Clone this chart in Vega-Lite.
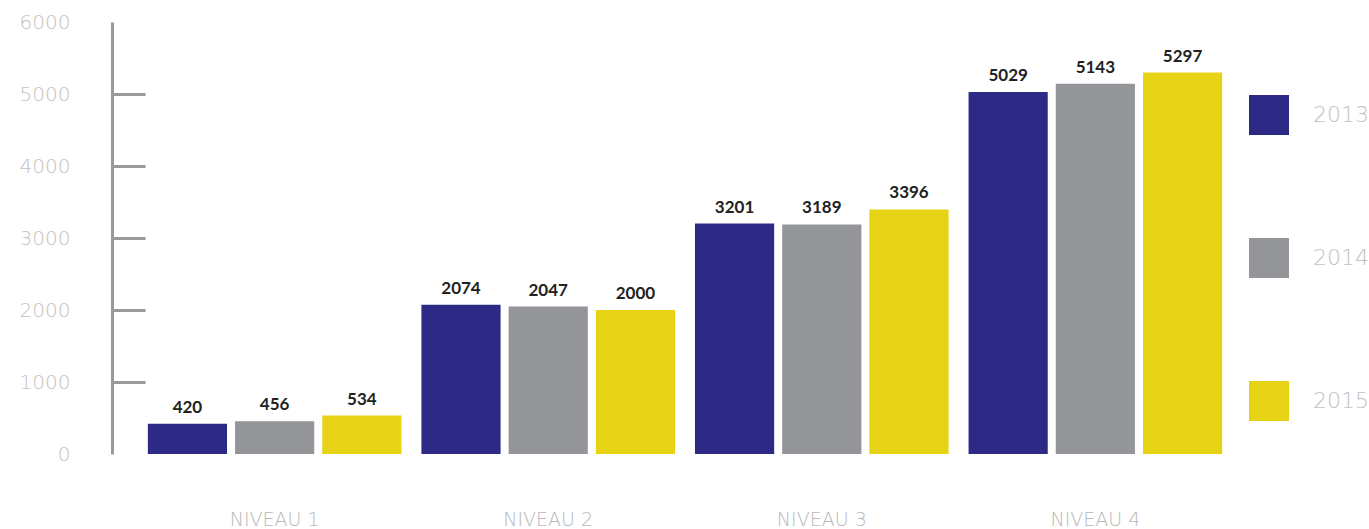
{
  "$schema": "https://vega.github.io/schema/vega-lite/v6.json",
  "width": 1146,
  "height": 432,
  "autosize": {"type": "none"},
  "padding": {"left": 112, "top": 22, "right": 111, "bottom": 75},
  "background": "white",
  "config": {"view": {"stroke": null}},
  "data": {"values": [
    {"niveau": "NIVEAU 1", "year": "2013", "value": 420},
    {"niveau": "NIVEAU 1", "year": "2014", "value": 456},
    {"niveau": "NIVEAU 1", "year": "2015", "value": 534},
    {"niveau": "NIVEAU 2", "year": "2013", "value": 2074},
    {"niveau": "NIVEAU 2", "year": "2014", "value": 2047},
    {"niveau": "NIVEAU 2", "year": "2015", "value": 2000},
    {"niveau": "NIVEAU 3", "year": "2013", "value": 3201},
    {"niveau": "NIVEAU 3", "year": "2014", "value": 3189},
    {"niveau": "NIVEAU 3", "year": "2015", "value": 3396},
    {"niveau": "NIVEAU 4", "year": "2013", "value": 5029},
    {"niveau": "NIVEAU 4", "year": "2014", "value": 5143},
    {"niveau": "NIVEAU 4", "year": "2015", "value": 5297}
  ]},
  "encoding": {
    "x": {
      "field": "niveau", "type": "nominal",
      "scale": {"paddingInner": 0.073, "paddingOuter": 0.131},
      "axis": {
        "title": null, "domain": false, "ticks": false, "labelAngle": 0,
        "labelPadding": 56, "labelFont": "DejaVu Sans", "labelFontWeight": 200,
        "labelFontSize": 19, "labelColor": "#b8b8b8"
      }
    },
    "xOffset": {"field": "year", "type": "nominal", "scale": {"paddingInner": 0.092}},
    "y": {
      "field": "value", "type": "quantitative",
      "scale": {"domain": [0, 6000], "nice": false},
      "axis": {
        "title": null, "grid": false, "values": [0, 1000, 2000, 3000, 4000, 5000, 6000],
        "format": "d",
        "domainColor": "#9a9a9a", "domainWidth": 3,
        "tickSize": -33, "tickWidth": 3,
        "tickColor": {"condition": {"test": "datum.value == 0 || datum.value == 6000", "value": "transparent"}, "value": "#9a9a9a"},
        "labelPadding": 75, "labelFont": "DejaVu Sans", "labelFontWeight": 200,
        "labelFontSize": 20, "labelColor": "#c2c2c2"
      }
    }
  },
  "layer": [
    {
      "mark": {"type": "bar"},
      "encoding": {
        "color": {
          "field": "year", "type": "nominal",
          "scale": {"domain": ["2013", "2014", "2015"], "range": ["#2d2a86", "#949598", "#e6d316"]},
          "legend": {
            "title": null, "orient": "none", "legendX": 1137, "legendY": 73,
            "symbolType": "square", "symbolSize": 1600, "symbolStrokeWidth": 0,
            "rowPadding": 103, "labelOffset": 24, "labelFont": "DejaVu Sans",
            "labelFontWeight": 200, "labelFontSize": 22, "labelColor": "#c2c2c2"
          }
        }
      }
    },
    {
      "mark": {"type": "text", "dy": -16, "font": "Lato", "fontWeight": "bold", "fontSize": 17, "color": "#222222"},
      "encoding": {"text": {"field": "value", "type": "quantitative", "format": "d"}}
    }
  ]
}
